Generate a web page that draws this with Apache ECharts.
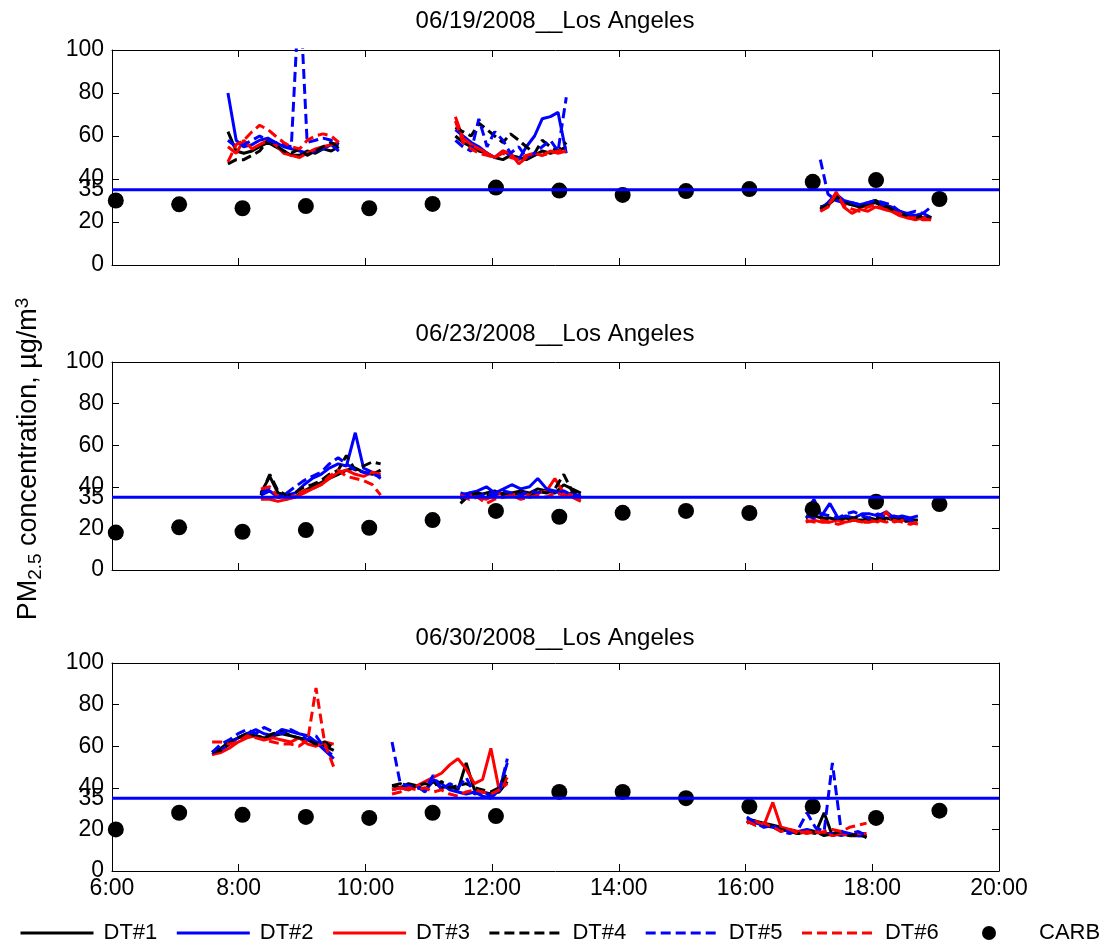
<!DOCTYPE html>
<html>
<head>
<meta charset="utf-8">
<script src="https://cdn.jsdelivr.net/npm/echarts@6/dist/echarts.min.js"></script>
<style>
  html, body { margin: 0; padding: 0; background: #fff; }
  #chart { width: 1099px; height: 941px; }
</style>
</head>
<body>
<div id="chart"></div>
<script>
// ---- Data -----------------------------------------------------------------
const panelTitles = ['06/19/2008__Los Angeles', '06/23/2008__Los Angeles', '06/30/2008__Los Angeles'];
const seriesNames = ['DT#1', 'DT#2', 'DT#3', 'DT#4', 'DT#5', 'DT#6'];
const carbName = 'CARB';
const xTickLabels = ['6:00', '8:00', '10:00', '12:00', '14:00', '16:00', '18:00', '20:00'];
const yTickValues = [0, 20, 35, 40, 60, 80, 100];
const standardLevel = 35;

// hourly CARB readings (decimal hours)
const carbTimes = [6.06, 7.06, 8.06, 9.06, 10.06, 11.06, 12.06, 13.06, 14.06, 15.06, 16.06, 17.06, 18.06, 19.06];
const carb1 = [30, 28.2, 26.4, 27.4, 26.4, 28.4, 36, 34.6, 32.6, 34.4, 35.3, 38.7, 39.5, 30.7];
const carb2 = [18, 20.5, 18.4, 19.2, 20.3, 24, 28.4, 25.6, 27.5, 28.4, 27.4, 29.2, 32.8, 31.7];
const carb3 = [20, 28, 27, 26, 25.5, 28, 26.4, 38, 38, 35, 31, 31, 25.5, 29];

// 06/19 — three sampling runs
const p1Times = [
  [7.83, 7.96, 8.08, 8.21, 8.33, 8.46, 8.58, 8.71, 8.83, 8.96, 9.08, 9.21, 9.33, 9.46, 9.58],
  [11.42, 11.54, 11.67, 11.79, 11.92, 12.04, 12.17, 12.29, 12.42, 12.54, 12.67, 12.79, 12.92, 13.04, 13.17],
  [17.18, 17.30, 17.43, 17.55, 17.68, 17.80, 17.93, 18.05, 18.18, 18.30, 18.43, 18.55, 18.68, 18.80, 18.93]
];
const p1DT1 = [
  [62, 53, 52, 53, 55, 57, 55, 53, 51, 51, 53, 52, 54, 53, 55],
  [60, 57, 55, 53, 52, 50, 49, 51, 50, 49, 51, 53, 52, 53, 55],
  [27, 28, 31, 29, 28, 27, 28, 29, 27, 26, 24, 23, 22, 22, 22]
];
const p1DT2 = [
  [80, 58, 55, 56, 58, 59, 57, 55, 54, 53, 52, 53, 54, 56, 53],
  [63, 60, 57, 55, 52, 50, 53, 51, 49, 55, 60, 68, 69, 71, 52],
  [26, 29, 33, 30, 29, 28, 29, 30, 28, 27, 25, 24, 23, 24, 22]
];
const p1DT3 = [
  [55, 52, 58, 54, 56, 58, 56, 52, 51, 50, 52, 54, 55, 56, 57],
  [69, 59, 56, 54, 52, 50, 53, 52, 47, 50, 52, 51, 53, 52, 53],
  [25, 27, 34, 27, 24, 26, 25, 27, 26, 25, 23, 22, 21, 22, 21]
];
const p1DT4 = [
  [47, 49, 49, 51, 53, 58, 56, 53, 52, 54, 51, 53, 55, 57, 55],
  [64, 62, 60, 66, 63, 60, 57, 61, 58, 55, 52, 58, 55, 53, 57],
  [26, 28, 32, 29, 28, 27, 28, 30, 28, 26, 24, 23, 22, 23, 22]
];
const p1DT5 = [
  [58, 55, 56, 58, 60, 58, 57, 56, 55, 130, 57, 58, 59, 58, 56],
  [58, 55, 53, 68, 55, 62, 58, 52, 55, 50, 52, 55, 58, 53, 78],
  [49, 33, 30, 29, 29, 28, 29, 30, 29, 28, 25, 24, 25, 24, 27]
];
const p1DT6 = [
  [48, 56, 58, 62, 65, 63, 60, 57, 55, 54, 58, 60, 61, 60, 57],
  [67, 57, 54, 52, 51, 50, 52, 50, 49, 51, 52, 51, 52, 53, 54],
  [25, 27, 33, 28, 26, 25, 27, 28, 26, 25, 24, 22, 22, 21, 21]
];

// 06/23
const p2Times = [
  [8.35, 8.49, 8.62, 8.76, 8.89, 9.03, 9.16, 9.30, 9.43, 9.57, 9.70, 9.84, 9.97, 10.11, 10.24],
  [11.50, 11.64, 11.77, 11.91, 12.04, 12.18, 12.31, 12.45, 12.59, 12.72, 12.86, 12.99, 13.13, 13.26, 13.40],
  [16.95, 17.08, 17.20, 17.33, 17.46, 17.58, 17.71, 17.84, 17.96, 18.09, 18.22, 18.34, 18.47, 18.60, 18.72]
];
const p2DT1 = [
  [37, 45, 37, 36, 35, 38, 40, 42, 44, 46, 48, 49, 47, 46, 48],
  [34, 37, 36, 37, 38, 36, 37, 38, 37, 39, 38, 37, 41, 39, 37],
  [29, 26, 25, 25, 24, 25, 24, 24, 25, 24, 25, 24, 25, 24, 24]
];
const p2DT2 = [
  [36, 38, 35, 36, 37, 41, 44, 46, 49, 51, 50, 66, 49, 47, 44],
  [36, 37, 38, 40, 37, 39, 41, 39, 40, 44, 39, 38, 36, 37, 35],
  [28, 34, 26, 32, 25, 26, 25, 27, 27, 26, 28, 25, 26, 25, 26]
];
const p2DT3 = [
  [34, 34, 33, 34, 35, 37, 39, 41, 44, 47, 48, 46, 45, 47, 46],
  [35, 36, 35, 34, 36, 37, 36, 37, 36, 37, 38, 44, 37, 36, 34],
  [23, 24, 23, 23, 24, 23, 24, 23, 24, 23, 28, 23, 24, 23, 22]
];
const p2DT4 = [
  [36, 46, 38, 36, 37, 40, 41, 43, 46, 48, 55, 48, 50, 52, 51],
  [32, 36, 37, 36, 35, 37, 36, 37, 35, 38, 37, 39, 46, 38, 36],
  [25, 27, 25, 24, 25, 24, 25, 26, 24, 25, 24, 25, 23, 24, 24]
];
const p2DT5 = [
  [37, 39, 35, 37, 40, 43, 45, 47, 51, 54, 51, 48, 47, 46, 45],
  [37, 36, 35, 37, 36, 38, 37, 36, 38, 37, 39, 37, 38, 36, 36],
  [26, 25, 27, 26, 25, 27, 28, 26, 25, 27, 25, 26, 25, 24, 23]
];
const p2DT6 = [
  [39, 40, 35, 34, 36, 38, 39, 41, 45, 48, 45, 44, 43, 41, 36],
  [36, 34, 35, 32, 34, 35, 36, 34, 35, 36, 35, 37, 36, 35, 33],
  [24, 23, 24, 23, 22, 23, 24, 23, 23, 24, 23, 24, 23, 22, 23]
];

// 06/30
const p3Times = [
  [7.58, 7.72, 7.85, 7.99, 8.13, 8.27, 8.40, 8.54, 8.68, 8.82, 8.95, 9.09, 9.22, 9.36, 9.50],
  [10.42, 10.55, 10.68, 10.81, 10.94, 11.07, 11.20, 11.33, 11.46, 11.59, 11.72, 11.85, 11.98, 12.11, 12.24],
  [16.02, 16.16, 16.29, 16.43, 16.56, 16.70, 16.83, 16.97, 17.10, 17.24, 17.37, 17.51, 17.64, 17.78, 17.91]
];
const p3DT1 = [
  [57, 59, 62, 64, 66, 65, 64, 65, 66, 65, 64, 63, 62, 60, 58],
  [41, 40, 42, 41, 39, 43, 40, 41, 39, 52, 39, 38, 37, 38, 43],
  [25, 24, 23, 22, 21, 19, 18, 19, 18, 28, 17, 18, 17, 17, 17]
];
const p3DT2 = [
  [56, 58, 61, 64, 66, 68, 66, 65, 68, 67, 66, 65, 62, 58, 54],
  [39, 40, 39, 41, 38, 44, 42, 39, 38, 37, 38, 36, 35, 39, 52],
  [24, 23, 22, 21, 20, 19, 19, 20, 19, 18, 18, 17, 18, 17, 17]
];
const p3DT3 = [
  [56, 57, 59, 62, 64, 65, 63, 64, 63, 62, 64, 61, 60, 62, 61],
  [39, 40, 39, 41, 43, 45, 47, 51, 54, 49, 42, 44, 59, 39, 45],
  [23, 24, 22, 33, 21, 20, 19, 18, 19, 18, 17, 18, 17, 18, 18]
];
const p3DT4 = [
  [57, 58, 61, 64, 66, 65, 64, 66, 67, 65, 64, 63, 61, 62, 59],
  [41, 42, 40, 41, 42, 41, 43, 40, 41, 42, 40, 39, 38, 40, 48],
  [24, 22, 22, 21, 20, 19, 18, 19, 19, 17, 18, 19, 17, 18, 16]
];
const p3DT5 = [
  [57, 61, 63, 66, 68, 66, 69, 67, 66, 68, 66, 63, 65, 59, 55],
  [62, 42, 41, 40, 39, 46, 39, 42, 40, 45, 37, 38, 36, 38, 54],
  [26, 23, 21, 22, 19, 18, 20, 28, 21, 19, 52, 19, 18, 19, 17]
];
const p3DT6 = [
  [62, 62, 61, 62, 65, 64, 63, 62, 61, 61, 60, 63, 88, 61, 50],
  [37, 38, 40, 39, 40, 38, 39, 37, 36, 38, 39, 38, 37, 39, 42],
  [24, 22, 23, 21, 19, 20, 18, 19, 18, 19, 20, 19, 21, 22, 23]
];

// ---- Chart ----------------------------------------------------------------
const FONT = 'Liberation Sans, Arial, sans-serif';
const colors = ['#000000', '#0000ff', '#ff0000', '#000000', '#0000ff', '#ff0000'];
const dashed = [false, false, false, true, true, true];
const dashPattern = [10, 5];

const panels = [
  { times: p1Times, dt: [p1DT1, p1DT2, p1DT3, p1DT4, p1DT5, p1DT6], carb: carb1 },
  { times: p2Times, dt: [p2DT1, p2DT2, p2DT3, p2DT4, p2DT5, p2DT6], carb: carb2 },
  { times: p3Times, dt: [p3DT1, p3DT2, p3DT3, p3DT4, p3DT5, p3DT6], carb: carb3 }
];
const grids = [
  { left: 112, right: 100, top: 50, height: 215 },
  { left: 112, right: 100, top: 362, height: 208 },
  { left: 112, right: 100, top: 663, height: 208 }
];
const titleTops = [9, 322, 626];

// join the sampling runs, breaking the line between them
function joinRuns(times, values) {
  const out = [];
  times.forEach((run, r) => {
    run.forEach((t, i) => out.push([t, values[r][i]]));
    if (r < times.length - 1) out.push([run[run.length - 1], null]);
  });
  return out;
}

const xAxes = [], yAxes = [], series = [], titles = [];
const tickStyle = { inside: true, length: 7, lineStyle: { color: '#000', width: 1 } };
const lineStyleAxis = { show: true, onZero: false, lineStyle: { color: '#000', width: 1 } };

panels.forEach((p, k) => {
  const xi = k * 2, yi = k * 2;
  ['bottom', 'top'].forEach(pos => {
    xAxes.push({
      gridIndex: k, type: 'value', position: pos, min: 6, max: 20, interval: 2,
      axisLine: lineStyleAxis, axisTick: tickStyle, splitLine: { show: false },
      axisLabel: {
        show: pos === 'bottom' && k === 2, margin: 6, color: '#000', fontSize: 23, fontFamily: FONT,
        formatter: v => xTickLabels[Math.round((v - 6) / 2)]
      }
    });
  });
  ['left', 'right'].forEach(pos => {
    yAxes.push({
      gridIndex: k, type: 'value', position: pos, min: 0, max: 100,
      axisLine: lineStyleAxis,
      axisTick: Object.assign({ customValues: [0, 20, 40, 60, 80, 100] }, tickStyle),
      splitLine: { show: false },
      axisLabel: {
        show: pos === 'left', customValues: yTickValues, margin: 8,
        color: '#000', fontSize: 23, fontFamily: FONT
      }
    });
  });

  p.dt.forEach((vals, s) => {
    series.push({
      type: 'line', name: seriesNames[s], xAxisIndex: xi, yAxisIndex: yi,
      data: joinRuns(p.times, vals), symbol: 'none', connectNulls: false,
      lineStyle: { color: colors[s], width: 3, type: dashed[s] ? dashPattern : 'solid' },
      itemStyle: { color: colors[s] }, animation: false, z: 2 + s
    });
  });
  series.push({
    type: 'scatter', name: carbName, xAxisIndex: xi, yAxisIndex: yi,
    data: carbTimes.map((t, i) => [t, p.carb[i]]), symbol: 'circle', symbolSize: 16,
    itemStyle: { color: '#000', opacity: 1 }, animation: false, z: 10
  });
  series.push({
    type: 'line', name: 'standard', xAxisIndex: xi, yAxisIndex: yi,
    data: [[6, standardLevel], [20, standardLevel]], symbol: 'none',
    lineStyle: { color: '#0000ff', width: 3 }, silent: true, animation: false, z: 11
  });

  titles.push({
    text: panelTitles[k], left: 555, top: titleTops[k], textAlign: 'center', padding: 0,
    textStyle: { fontSize: 24, fontWeight: 'normal', color: '#000', fontFamily: FONT }
  });
});

const legendText = { fontSize: 22, color: '#000', fontFamily: FONT };

const chart = echarts.init(document.getElementById('chart'), null, { renderer: 'canvas' });
chart.setOption({
  backgroundColor: '#fff',
  animation: false,
  title: titles,
  grid: grids,
  xAxis: xAxes,
  yAxis: yAxes,
  legend: [{
    data: seriesNames.map((n, s) => ({
      name: n,
      itemStyle: { opacity: 0 },
      lineStyle: { width: 3, color: colors[s], type: dashed[s] ? dashPattern : 'solid' }
    })),
    left: 19, top: 922, padding: 0,
    itemWidth: 73, itemHeight: 14, itemGap: 18,
    lineStyle: { width: 3 },
    textStyle: Object.assign({ padding: [0, 0, 0, 5] }, legendText)
  }, {
    data: [carbName],
    left: 982, top: 922, padding: 0,
    itemWidth: 14, itemHeight: 14,
    textStyle: Object.assign({ padding: [0, 0, 0, 38] }, legendText)
  }],
  graphic: [{
    type: 'text', x: 29, y: 459, rotation: Math.PI / 2,
    style: {
      text: 'PM{sub|2.5} concentration, µg/m{sup|3}',
      fill: '#000', fontSize: 27, fontFamily: FONT, align: 'center', verticalAlign: 'middle', lineHeight: 32,
      rich: {
        sub: { fontSize: 19, fontFamily: FONT, lineHeight: 19, verticalAlign: 'bottom' },
        sup: { fontSize: 19, fontFamily: FONT, lineHeight: 19, verticalAlign: 'top' }
      }
    }
  }],
  series: series
});
</script>
</body>
</html>
